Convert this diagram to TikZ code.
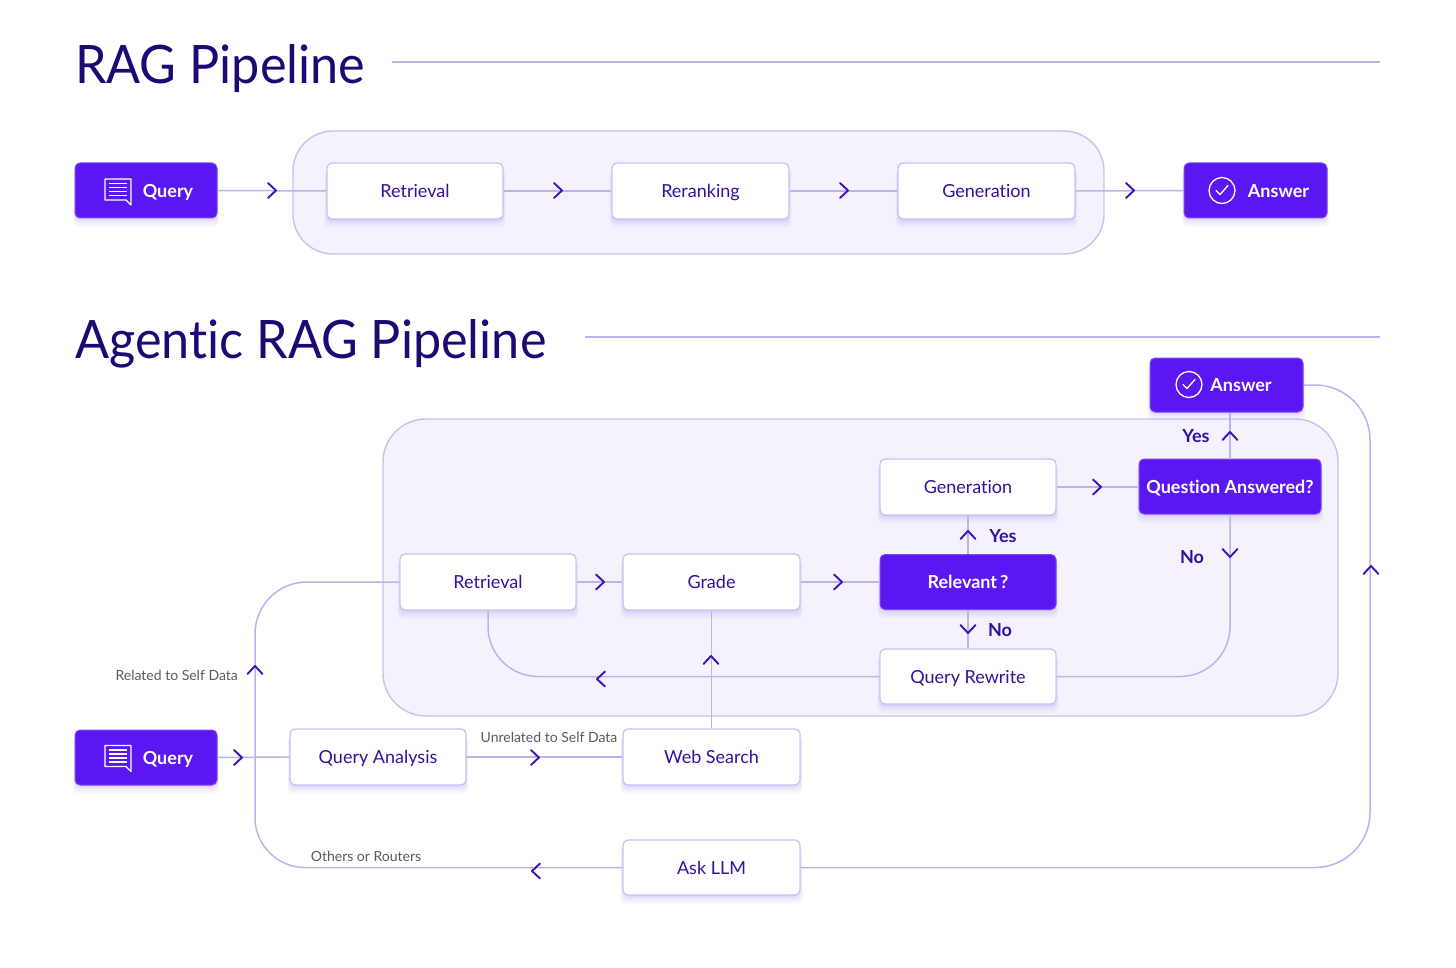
\documentclass[tikz,border=0pt]{standalone}
\usepackage{fontspec}
\setmainfont{Lato}[Ligatures=CommonOff]
\newfontfamily\ttlfont{Lato}[FakeStretch=0.95, Ligatures=CommonOff]
\usetikzlibrary{shadows}
\definecolor{ink}{HTML}{34109E}
\definecolor{titlec}{HTML}{1E0873}
\definecolor{vio}{HTML}{5B17F2}
\definecolor{wire}{HTML}{BDB3EC}
\definecolor{edgec}{HTML}{CAC1F0}
\definecolor{panelc}{HTML}{F5F2FE}
\definecolor{chevc}{HTML}{3E12B8}
\definecolor{grayt}{HTML}{5A5A66}
\definecolor{shad}{HTML}{9C86EA}
\begin{document}
\begin{tikzpicture}[x=1pt,y=-1pt,
  boxbase/.style={rounded corners=5pt, inner sep=0pt, minimum height=56pt, text height=16pt, text depth=3pt,
    general shadow={shadow xshift=0pt, shadow yshift=-8pt, shadow scale=1.03, fill=shad, draw=none, fill opacity=0.05},
    general shadow={shadow xshift=0pt, shadow yshift=-6pt, shadow scale=1.02, fill=shad, draw=none, fill opacity=0.07},
    general shadow={shadow xshift=0pt, shadow yshift=-4pt, shadow scale=1.01, fill=shad, draw=none, fill opacity=0.09},
    general shadow={shadow xshift=0pt, shadow yshift=-2pt, fill=shad, draw=none, fill opacity=0.12}},
  wbox/.style={boxbase, draw=edgec, line width=1.2pt, fill=white, minimum width=176pt,
    text=ink, font=\fontsize{18}{20}\selectfont},
  pbox/.style={boxbase, draw=vio!80!white, line width=1pt, fill=vio, minimum width=176pt,
    text=white, font=\bfseries\fontsize{18}{20}\selectfont},
  btxt/.style={text=white, font=\bfseries\fontsize{18}{20}\selectfont, inner sep=0pt, text height=16pt, text depth=3pt},
  wire/.style={draw=wire, line width=1.5pt},
  panel/.style={draw=edgec, fill=panelc, line width=1.4pt},
  yn/.style={text=ink, font=\bfseries\fontsize{18}{20}\selectfont, inner sep=0pt},
  small/.style={text=grayt, font=\fontsize{14}{16}\selectfont, inner sep=0pt},
  ttl/.style={text=titlec, font=\ttlfont\fontsize{53}{58}\selectfont, inner sep=0pt, anchor=base west},
  chev/.pic={\draw[chevc, line width=1.9pt, line cap=round, line join=round] (-4,-7.5) -- (4,0) -- (-4,7.5);},
  qicon/.pic={\draw[white, line width=1.4pt, line join=round] (-13,-12) -- (13,-12) -- (13,14) -- (8,9) -- (-13,9) -- cycle;
     \foreach \yy in {-7.5,-3.5,0.5,4.5} \draw[white, line width=1.3pt] (-9,\yy) -- (9,\yy);},
  cicon/.pic={\draw[white, line width=1.3pt] (0,0) circle (13pt);
     \draw[white, line width=1.3pt, line cap=round, line join=round] (-6,0) -- (-2,4) -- (6,-5);}
]
\useasboundingbox (0,0) rectangle (1456,968);
\fill[white] (0,0) rectangle (1456,968);

% ---------- titles ----------
\node[ttl] (t1) at (75,84) {RAG Pipeline};
\node[ttl] (t2) at (75,358) {Agentic RAG Pipeline};
\draw[wire, line width=1.3pt] (392,62) -- (1380,62);
\draw[wire, line width=1.3pt] (585,337) -- (1380,337);

% ---------- RAG pipeline ----------
\draw[panel, rounded corners=40pt] (293,131) rectangle (1104,254);
\node[pbox, minimum width=142pt, minimum height=55pt] (q1) at (146,190.5) {};
\pic at (118,191) {qicon};
\node[btxt] (q1t) at (168,191) {Query};
\node[wbox] (r1) at (415,191) {Retrieval};
\node[wbox, minimum width=177pt] (rr1) at (700.5,191) {Reranking};
\node[wbox, minimum width=177pt] (g1) at (986.5,191) {Generation};
\node[pbox, minimum width=143pt, minimum height=55pt] (a1) at (1255.5,190.5) {};
\pic at (1222,190.5) {cicon};
\node[btxt] (a1t) at (1278.5,191) {Answer};
\draw[wire] (q1.east) -- (r1.west);
\draw[wire] (r1.east) -- (rr1.west);
\draw[wire] (rr1.east) -- (g1.west);
\draw[wire] (g1.east) -- (a1.west);
\pic at (272,190.5) {chev};
\pic at (558,190.5) {chev};
\pic at (844,190.5) {chev};
\pic at (1130,190.5) {chev};

% ---------- Agentic RAG pipeline ----------
\draw[panel, rounded corners=43pt] (383,419) rectangle (1338,716);
\node[pbox, minimum width=153pt, minimum height=54pt] (a2) at (1226.5,385) {};
\pic at (1189,384.5) {cicon};
\node[btxt] (a2t) at (1241,385) {Answer};
\node[pbox, minimum width=182pt, minimum height=55pt] (qa) at (1230,486.5) {Question Answered?};
\node[wbox] (gen2) at (968,487) {Generation};
\node[pbox, minimum height=55pt] (rel) at (968,582) {Relevant\,?};
\node[wbox, minimum height=55pt] (qr) at (968,676.5) {Query Rewrite};
\node[wbox] (ret2) at (488,582) {Retrieval};
\node[wbox, minimum width=177pt] (grade) at (711.5,582) {Grade};
\node[wbox, minimum width=177pt] (ws) at (711.5,757) {Web Search};
\node[wbox] (qan) at (378,757) {Query Analysis};
\node[pbox, minimum width=142pt, minimum height=55pt] (q2) at (146,757.5) {};
\pic at (118,757.5) {qicon};
\node[btxt] (q2t) at (168,758) {Query};
\node[wbox, minimum width=177pt, minimum height=55pt] (llm) at (711.5,867.5) {Ask LLM};

\coordinate (lx) at (255,757.5);
\coordinate (rx) at (1370,700);

\draw[wire] (ret2.east) -- (grade.west);
\draw[wire] (grade.east) -- (rel.west);
\draw[wire] (gen2.east) -- (gen2.east -| qa.west);
\draw[wire] (rel.north) -- (gen2.south);
\draw[wire] (rel.south) -- (qr.north);
\draw[wire] (qa.north) -- (qa.north |- a2.south);
\draw[wire, rounded corners=50pt] (qa.south) |- (qr.east);
\draw[wire, rounded corners=50pt] (qr.west) -| (ret2.south);
\draw[wire] (ws.north) -- (grade.south);
\draw[wire] (qan.east) -- (ws.west);
\draw[wire] (q2.east) -- (qan.west);
\draw[wire, rounded corners=52pt] (ret2.west) -| (lx);
\draw[wire, rounded corners=50pt] (lx) |- (llm.west);
\draw[wire, rounded corners=55pt] (a2.east) -| (rx);
\draw[wire, rounded corners=55pt] (rx) |- (llm.east);

\pic at (600,582) {chev};
\pic at (838,582) {chev};
\pic at (1097,487) {chev};
\pic[rotate=90] at (968,535) {chev};
\pic[rotate=-90] at (968,629) {chev};
\pic[rotate=90] at (1230,436) {chev};
\pic[rotate=-90] at (1230,553) {chev};
\pic[rotate=90] at (1371,570) {chev};
\pic[rotate=180] at (601,679) {chev};
\pic[rotate=90] at (711,660) {chev};
\pic at (238,757.5) {chev};
\pic at (535,757.5) {chev};
\pic[rotate=90] at (255,670) {chev};
\pic[rotate=180] at (536,871) {chev};

\node[yn] (yes1) at (1196,436) {Yes};
\node[yn] (no1) at (1192,557) {No};
\node[yn] (yes2) at (1003,536) {Yes};
\node[yn] (no2) at (1000,630) {No};
\node[small, anchor=east] (lrel) at (238,675) {Related to Self Data};
\node[small] (lunr) at (549,737) {Unrelated to Self Data};
\node[small] (loth) at (366,856) {Others or Routers};
\end{tikzpicture}
\end{document}
